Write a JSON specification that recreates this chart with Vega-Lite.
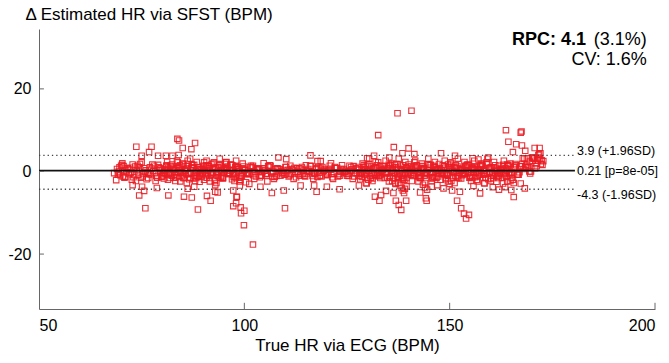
{
  "$schema": "https://vega.github.io/schema/vega-lite/v6.json",
  "width": 616,
  "height": 280,
  "autosize": {"type": "none"},
  "padding": {"left": 39, "top": 29, "right": 14, "bottom": 54},
  "config": {
    "font": "Liberation Sans",
    "view": {"stroke": null},
    "axis": {"grid": false, "ticks": false, "domainColor": "#666", "labelColor": "#000", "titleColor": "#000", "labelFontSize": 16, "titleFontSize": 17, "titleFontWeight": "normal", "labelPadding": 6}
  },
  "datasets": {
    "pts": [
      {"hr":69.0,"diff":0.6},{"hr":69.8,"diff":-0.9},{"hr":70.6,"diff":1.3},{"hr":71.4,"diff":-0.2},{"hr":72.2,"diff":0.9},{"hr":73.0,"diff":-1.4},{"hr":73.8,"diff":0.3},{"hr":74.6,"diff":1.8},{"hr":75.4,"diff":-0.6},{"hr":76.2,"diff":-1.9},{"hr":77.0,"diff":1.0},{"hr":77.8,"diff":0.1},{"hr":78.6,"diff":-1.1},{"hr":79.4,"diff":0.6},{"hr":80.2,"diff":-0.9},{"hr":81.0,"diff":1.3},{"hr":81.8,"diff":-0.2},{"hr":82.6,"diff":0.9},{"hr":83.4,"diff":-1.4},{"hr":84.2,"diff":0.3},{"hr":85.0,"diff":1.8},{"hr":85.8,"diff":-0.6},{"hr":86.6,"diff":-1.9},{"hr":87.4,"diff":1.0},{"hr":88.2,"diff":0.1},{"hr":89.0,"diff":-1.1},{"hr":89.8,"diff":0.6},{"hr":90.6,"diff":-0.9},{"hr":91.4,"diff":1.3},{"hr":92.2,"diff":-0.2},{"hr":93.0,"diff":0.9},{"hr":93.8,"diff":-1.4},{"hr":94.6,"diff":0.3},{"hr":95.4,"diff":1.8},{"hr":96.2,"diff":-0.6},{"hr":97.0,"diff":-1.9},{"hr":97.8,"diff":1.0},{"hr":98.6,"diff":0.1},{"hr":99.4,"diff":-1.1},{"hr":100.2,"diff":0.4},{"hr":101.0,"diff":-0.6},{"hr":101.8,"diff":0.9},{"hr":102.6,"diff":-0.1},{"hr":103.4,"diff":0.6},{"hr":104.2,"diff":-1.0},{"hr":105.0,"diff":0.2},{"hr":105.8,"diff":1.3},{"hr":106.6,"diff":-0.4},{"hr":107.4,"diff":-1.3},{"hr":108.2,"diff":0.7},{"hr":109.0,"diff":0.1},{"hr":109.8,"diff":-0.8},{"hr":110.6,"diff":0.4},{"hr":111.4,"diff":-0.6},{"hr":112.2,"diff":0.9},{"hr":113.0,"diff":-0.1},{"hr":113.8,"diff":0.6},{"hr":114.6,"diff":-1.0},{"hr":115.4,"diff":0.2},{"hr":116.2,"diff":1.3},{"hr":117.0,"diff":-0.4},{"hr":117.8,"diff":-1.3},{"hr":118.6,"diff":0.7},{"hr":119.4,"diff":0.1},{"hr":120.2,"diff":-0.8},{"hr":121.0,"diff":0.4},{"hr":121.8,"diff":-0.6},{"hr":122.6,"diff":0.9},{"hr":123.4,"diff":-0.1},{"hr":124.2,"diff":0.6},{"hr":125.0,"diff":-1.0},{"hr":125.8,"diff":0.2},{"hr":126.6,"diff":1.3},{"hr":127.4,"diff":-0.4},{"hr":128.2,"diff":-1.9},{"hr":129.0,"diff":1.0},{"hr":129.8,"diff":0.1},{"hr":130.6,"diff":-1.1},{"hr":131.4,"diff":0.6},{"hr":132.2,"diff":-0.9},{"hr":133.0,"diff":1.3},{"hr":133.8,"diff":-0.2},{"hr":134.6,"diff":0.9},{"hr":135.4,"diff":-1.4},{"hr":136.2,"diff":0.3},{"hr":137.0,"diff":1.8},{"hr":137.8,"diff":-0.6},{"hr":138.6,"diff":-1.9},{"hr":139.4,"diff":1.0},{"hr":140.2,"diff":0.1},{"hr":141.0,"diff":-1.1},{"hr":141.8,"diff":0.6},{"hr":142.6,"diff":-0.9},{"hr":143.4,"diff":1.3},{"hr":144.2,"diff":-0.2},{"hr":145.0,"diff":0.9},{"hr":145.8,"diff":-1.4},{"hr":146.6,"diff":0.3},{"hr":147.4,"diff":1.8},{"hr":148.2,"diff":-0.6},{"hr":149.0,"diff":-1.9},{"hr":149.8,"diff":1.0},{"hr":150.6,"diff":0.1},{"hr":151.4,"diff":-1.1},{"hr":152.2,"diff":0.6},{"hr":153.0,"diff":-0.9},{"hr":153.8,"diff":1.3},{"hr":154.6,"diff":-0.2},{"hr":155.4,"diff":0.9},{"hr":156.2,"diff":-1.4},{"hr":157.0,"diff":0.3},{"hr":157.8,"diff":1.8},{"hr":158.6,"diff":-0.6},{"hr":159.4,"diff":-1.9},{"hr":160.2,"diff":1.0},{"hr":161.0,"diff":0.1},{"hr":161.8,"diff":-1.1},{"hr":162.6,"diff":0.6},{"hr":163.4,"diff":-0.9},{"hr":164.2,"diff":1.3},{"hr":165.0,"diff":-0.2},{"hr":165.8,"diff":1.2},{"hr":166.6,"diff":-0.8},{"hr":167.4,"diff":1.3},{"hr":168.2,"diff":3.1},{"hr":169.0,"diff":1.0},{"hr":169.8,"diff":0.0},{"hr":170.6,"diff":3.2},{"hr":171.4,"diff":2.7},{"hr":172.2,"diff":1.8},
      {"hr":69.4,"diff":-0.4},{"hr":70.2,"diff":1.6},{"hr":71.0,"diff":-1.3},{"hr":71.8,"diff":0.5},{"hr":72.6,"diff":-2.0},{"hr":73.4,"diff":1.2},{"hr":74.2,"diff":-0.8},{"hr":75.0,"diff":2.2},{"hr":75.8,"diff":-0.1},{"hr":76.6,"diff":-1.6},{"hr":77.4,"diff":0.7},{"hr":78.2,"diff":-0.4},{"hr":79.0,"diff":1.6},{"hr":79.8,"diff":-1.3},{"hr":80.6,"diff":0.5},{"hr":81.4,"diff":-2.0},{"hr":82.2,"diff":1.2},{"hr":83.0,"diff":-0.8},{"hr":83.8,"diff":2.2},{"hr":84.6,"diff":-0.1},{"hr":85.4,"diff":-1.6},{"hr":86.2,"diff":0.7},{"hr":87.0,"diff":-0.4},{"hr":87.8,"diff":1.6},{"hr":88.6,"diff":-1.3},{"hr":89.4,"diff":0.5},{"hr":90.2,"diff":-2.0},{"hr":91.0,"diff":1.2},{"hr":91.8,"diff":-0.8},{"hr":92.6,"diff":2.2},{"hr":93.4,"diff":-0.1},{"hr":94.2,"diff":-1.6},{"hr":95.0,"diff":0.7},{"hr":95.8,"diff":-0.4},{"hr":96.6,"diff":1.6},{"hr":97.4,"diff":-1.3},{"hr":98.2,"diff":0.5},{"hr":99.0,"diff":-2.0},{"hr":99.8,"diff":1.2},{"hr":100.6,"diff":-0.6},{"hr":101.4,"diff":1.1},{"hr":102.2,"diff":-0.9},{"hr":103.0,"diff":0.4},{"hr":103.8,"diff":-1.4},{"hr":104.6,"diff":0.8},{"hr":105.4,"diff":-0.6},{"hr":106.2,"diff":1.5},{"hr":107.0,"diff":-0.1},{"hr":107.8,"diff":-1.1},{"hr":108.6,"diff":0.5},{"hr":109.4,"diff":-0.3},{"hr":110.2,"diff":1.1},{"hr":111.0,"diff":-0.9},{"hr":111.8,"diff":0.4},{"hr":112.6,"diff":-1.4},{"hr":113.4,"diff":0.8},{"hr":114.2,"diff":-0.6},{"hr":115.0,"diff":1.5},{"hr":115.8,"diff":-0.1},{"hr":116.6,"diff":-1.1},{"hr":117.4,"diff":0.5},{"hr":118.2,"diff":-0.3},{"hr":119.0,"diff":1.1},{"hr":119.8,"diff":-0.9},{"hr":120.6,"diff":0.4},{"hr":121.4,"diff":-1.4},{"hr":122.2,"diff":0.8},{"hr":123.0,"diff":-0.6},{"hr":123.8,"diff":1.5},{"hr":124.6,"diff":-0.1},{"hr":125.4,"diff":-1.1},{"hr":126.2,"diff":0.5},{"hr":127.0,"diff":-0.3},{"hr":127.8,"diff":1.1},{"hr":128.6,"diff":-1.3},{"hr":129.4,"diff":0.5},{"hr":130.2,"diff":-2.0},{"hr":131.0,"diff":1.2},{"hr":131.8,"diff":-0.8},{"hr":132.6,"diff":2.2},{"hr":133.4,"diff":-0.1},{"hr":134.2,"diff":-1.6},{"hr":135.0,"diff":0.7},{"hr":135.8,"diff":-0.4},{"hr":136.6,"diff":1.6},{"hr":137.4,"diff":-1.3},{"hr":138.2,"diff":0.5},{"hr":139.0,"diff":-2.0},{"hr":139.8,"diff":1.2},{"hr":140.6,"diff":-0.8},{"hr":141.4,"diff":2.2},{"hr":142.2,"diff":-0.1},{"hr":143.0,"diff":-1.6},{"hr":143.8,"diff":0.7},{"hr":144.6,"diff":-0.4},{"hr":145.4,"diff":1.6},{"hr":146.2,"diff":-1.3},{"hr":147.0,"diff":0.5},{"hr":147.8,"diff":-2.0},{"hr":148.6,"diff":1.2},{"hr":149.4,"diff":-0.8},{"hr":150.2,"diff":2.2},{"hr":151.0,"diff":-0.1},{"hr":151.8,"diff":-1.6},{"hr":152.6,"diff":0.7},{"hr":153.4,"diff":-0.4},{"hr":154.2,"diff":1.6},{"hr":155.0,"diff":-1.3},{"hr":155.8,"diff":0.5},{"hr":156.6,"diff":-2.0},{"hr":157.4,"diff":1.2},{"hr":158.2,"diff":-0.8},{"hr":159.0,"diff":2.2},{"hr":159.8,"diff":-0.1},{"hr":160.6,"diff":-1.6},{"hr":161.4,"diff":0.7},{"hr":162.2,"diff":-0.4},{"hr":163.0,"diff":1.6},{"hr":163.8,"diff":-1.3},{"hr":164.6,"diff":0.5},{"hr":165.4,"diff":-2.0},{"hr":166.2,"diff":1.5},{"hr":167.0,"diff":-0.2},{"hr":167.8,"diff":3.2},{"hr":168.6,"diff":1.2},{"hr":169.4,"diff":0.0},{"hr":170.2,"diff":2.6},{"hr":171.0,"diff":1.8},{"hr":171.8,"diff":4.2},{"hr":172.6,"diff":1.6},
      {"hr":69.2,"diff":-0.7},{"hr":70.0,"diff":1.4},{"hr":70.8,"diff":-1.5},{"hr":71.6,"diff":0.8},{"hr":72.4,"diff":-0.3},{"hr":73.2,"diff":-0.7},{"hr":74.0,"diff":1.4},{"hr":74.8,"diff":-1.5},{"hr":75.6,"diff":0.8},{"hr":76.4,"diff":-0.3},{"hr":77.2,"diff":-0.7},{"hr":78.0,"diff":1.4},{"hr":78.8,"diff":-1.5},{"hr":79.6,"diff":0.8},{"hr":80.4,"diff":-0.3},{"hr":81.2,"diff":-0.7},{"hr":82.0,"diff":1.4},{"hr":82.8,"diff":-1.5},{"hr":83.6,"diff":0.8},{"hr":84.4,"diff":-0.3},{"hr":85.2,"diff":-0.7},{"hr":86.0,"diff":1.4},{"hr":86.8,"diff":-1.5},{"hr":87.6,"diff":0.8},{"hr":88.4,"diff":-0.3},{"hr":89.2,"diff":-0.7},{"hr":90.0,"diff":1.4},{"hr":90.8,"diff":-1.5},{"hr":91.6,"diff":0.8},{"hr":92.4,"diff":-0.3},{"hr":93.2,"diff":-0.7},{"hr":94.0,"diff":1.4},{"hr":94.8,"diff":-1.5},{"hr":95.6,"diff":0.8},{"hr":96.4,"diff":-0.3},{"hr":97.2,"diff":-0.7},{"hr":98.0,"diff":1.4},{"hr":98.8,"diff":-1.5},{"hr":99.6,"diff":0.8},{"hr":100.4,"diff":-0.3},{"hr":101.2,"diff":-0.6},{"hr":102.0,"diff":1.1},{"hr":102.8,"diff":-1.2},{"hr":103.6,"diff":0.6},{"hr":104.4,"diff":-0.2},{"hr":105.2,"diff":-0.6},{"hr":106.0,"diff":1.1},{"hr":106.8,"diff":-1.2},{"hr":107.6,"diff":0.6},{"hr":108.4,"diff":-0.2},{"hr":109.2,"diff":-0.6},{"hr":110.0,"diff":1.1},{"hr":110.8,"diff":-1.2},{"hr":111.6,"diff":0.6},{"hr":112.4,"diff":-0.2},{"hr":113.2,"diff":-0.6},{"hr":114.0,"diff":1.1},{"hr":114.8,"diff":-1.2},{"hr":115.6,"diff":0.6},{"hr":116.4,"diff":-0.2},{"hr":117.2,"diff":-0.6},{"hr":118.0,"diff":1.1},{"hr":118.8,"diff":-1.2},{"hr":119.6,"diff":0.6},{"hr":120.4,"diff":-0.2},{"hr":121.2,"diff":-0.6},{"hr":122.0,"diff":1.1},{"hr":122.8,"diff":-1.2},{"hr":123.6,"diff":0.6},{"hr":124.4,"diff":-0.2},{"hr":125.2,"diff":-0.6},{"hr":126.0,"diff":1.1},{"hr":126.8,"diff":-1.2},{"hr":127.6,"diff":0.6},{"hr":128.4,"diff":-0.3},{"hr":129.2,"diff":-0.7},{"hr":130.0,"diff":1.4},{"hr":130.8,"diff":-1.5},{"hr":131.6,"diff":0.8},{"hr":132.4,"diff":-0.3},{"hr":133.2,"diff":-0.7},{"hr":134.0,"diff":1.4},{"hr":134.8,"diff":-1.5},{"hr":135.6,"diff":0.8},{"hr":136.4,"diff":-0.3},{"hr":137.2,"diff":-0.7},{"hr":138.0,"diff":1.4},{"hr":138.8,"diff":-1.5},{"hr":139.6,"diff":0.8},{"hr":140.4,"diff":-0.3},{"hr":141.2,"diff":-0.7},{"hr":142.0,"diff":1.4},{"hr":142.8,"diff":-1.5},{"hr":143.6,"diff":0.8},{"hr":144.4,"diff":-0.3},{"hr":145.2,"diff":-0.7},{"hr":146.0,"diff":1.4},{"hr":146.8,"diff":-1.5},{"hr":147.6,"diff":0.8},{"hr":148.4,"diff":-0.3},{"hr":149.2,"diff":-0.7},{"hr":150.0,"diff":1.4},{"hr":150.8,"diff":-1.5},{"hr":151.6,"diff":0.8},{"hr":152.4,"diff":-0.3},{"hr":153.2,"diff":-0.7},{"hr":154.0,"diff":1.4},{"hr":154.8,"diff":-1.5},{"hr":155.6,"diff":0.8},{"hr":156.4,"diff":-0.3},{"hr":157.2,"diff":-0.7},{"hr":158.0,"diff":1.4},{"hr":158.8,"diff":-1.5},{"hr":159.6,"diff":0.8},{"hr":160.4,"diff":-0.3},{"hr":161.2,"diff":-0.7},{"hr":162.0,"diff":1.4},{"hr":162.8,"diff":-1.5},{"hr":163.6,"diff":0.8},{"hr":164.4,"diff":-0.3},{"hr":165.2,"diff":-0.7},{"hr":166.0,"diff":1.8},{"hr":166.8,"diff":-0.8},{"hr":167.6,"diff":1.8},{"hr":168.4,"diff":1.1},{"hr":169.2,"diff":1.0},{"hr":170.0,"diff":3.4},{"hr":170.8,"diff":0.8},{"hr":171.6,"diff":3.4},{"hr":172.4,"diff":2.7},
      {"hr":69.6,"diff":1.0},{"hr":70.4,"diff":-1.2},{"hr":71.2,"diff":0.3},{"hr":72.0,"diff":-0.6},{"hr":72.8,"diff":1.7},{"hr":73.6,"diff":-2.3},{"hr":74.4,"diff":1.0},{"hr":75.2,"diff":-1.2},{"hr":76.0,"diff":0.3},{"hr":76.8,"diff":-0.6},{"hr":77.6,"diff":1.7},{"hr":78.4,"diff":-2.3},{"hr":79.2,"diff":1.0},{"hr":80.0,"diff":-1.2},{"hr":80.8,"diff":0.3},{"hr":81.6,"diff":-0.6},{"hr":82.4,"diff":1.7},{"hr":83.2,"diff":-2.3},{"hr":84.0,"diff":1.0},{"hr":84.8,"diff":-1.2},{"hr":85.6,"diff":0.3},{"hr":86.4,"diff":-0.6},{"hr":87.2,"diff":1.7},{"hr":88.0,"diff":-2.3},{"hr":88.8,"diff":1.0},{"hr":89.6,"diff":-1.2},{"hr":90.4,"diff":0.3},{"hr":91.2,"diff":-0.6},{"hr":92.0,"diff":1.7},{"hr":92.8,"diff":-2.3},{"hr":93.6,"diff":1.0},{"hr":94.4,"diff":-1.2},{"hr":95.2,"diff":0.3},{"hr":96.0,"diff":-0.6},{"hr":96.8,"diff":1.7},{"hr":97.6,"diff":-2.3},{"hr":98.4,"diff":1.0},{"hr":99.2,"diff":-1.2},{"hr":100.0,"diff":0.3},{"hr":100.8,"diff":-0.6},{"hr":101.6,"diff":1.4},{"hr":102.4,"diff":-1.8},{"hr":103.2,"diff":0.8},{"hr":104.0,"diff":-1.0},{"hr":104.8,"diff":0.2},{"hr":105.6,"diff":-0.5},{"hr":106.4,"diff":1.4},{"hr":107.2,"diff":-1.8},{"hr":108.0,"diff":0.8},{"hr":108.8,"diff":-1.0},{"hr":109.6,"diff":0.2},{"hr":110.4,"diff":-0.5},{"hr":111.2,"diff":1.4},{"hr":112.0,"diff":-1.8},{"hr":112.8,"diff":0.8},{"hr":113.6,"diff":-1.0},{"hr":114.4,"diff":0.2},{"hr":115.2,"diff":-0.5},{"hr":116.0,"diff":1.4},{"hr":116.8,"diff":-1.8},{"hr":117.6,"diff":0.8},{"hr":118.4,"diff":-1.0},{"hr":119.2,"diff":0.2},{"hr":120.0,"diff":-0.5},{"hr":120.8,"diff":1.4},{"hr":121.6,"diff":-1.8},{"hr":122.4,"diff":0.8},{"hr":123.2,"diff":-1.0},{"hr":124.0,"diff":0.2},{"hr":124.8,"diff":-0.5},{"hr":125.6,"diff":1.4},{"hr":126.4,"diff":-1.8},{"hr":127.2,"diff":0.8},{"hr":128.0,"diff":-1.0},{"hr":128.8,"diff":0.3},{"hr":129.6,"diff":-0.6},{"hr":130.4,"diff":1.7},{"hr":131.2,"diff":-2.3},{"hr":132.0,"diff":1.0},{"hr":132.8,"diff":-1.2},{"hr":133.6,"diff":0.3},{"hr":134.4,"diff":-0.6},{"hr":135.2,"diff":1.7},{"hr":136.0,"diff":-2.3},{"hr":136.8,"diff":1.0},{"hr":137.6,"diff":-1.2},{"hr":138.4,"diff":0.3},{"hr":139.2,"diff":-0.6},{"hr":140.0,"diff":1.7},{"hr":140.8,"diff":-2.3},{"hr":141.6,"diff":1.0},{"hr":142.4,"diff":-1.2},{"hr":143.2,"diff":0.3},{"hr":144.0,"diff":-0.6},{"hr":144.8,"diff":1.7},{"hr":145.6,"diff":-2.3},{"hr":146.4,"diff":1.0},{"hr":147.2,"diff":-1.2},{"hr":148.0,"diff":0.3},{"hr":148.8,"diff":-0.6},{"hr":149.6,"diff":1.7},{"hr":150.4,"diff":-2.3},{"hr":151.2,"diff":1.0},{"hr":152.0,"diff":-1.2},{"hr":152.8,"diff":0.3},{"hr":153.6,"diff":-0.6},{"hr":154.4,"diff":1.7},{"hr":155.2,"diff":-2.3},{"hr":156.0,"diff":1.0},{"hr":156.8,"diff":-1.2},{"hr":157.6,"diff":0.3},{"hr":158.4,"diff":-0.6},{"hr":159.2,"diff":1.7},{"hr":160.0,"diff":-2.3},{"hr":160.8,"diff":1.0},{"hr":161.6,"diff":-1.2},{"hr":162.4,"diff":0.3},{"hr":163.2,"diff":-0.6},{"hr":164.0,"diff":1.7},{"hr":164.8,"diff":-2.3},{"hr":165.6,"diff":1.0},{"hr":166.4,"diff":-0.7},{"hr":167.2,"diff":1.2},{"hr":168.0,"diff":0.6},{"hr":168.8,"diff":3.2},{"hr":169.6,"diff":-0.5},{"hr":170.4,"diff":3.1},{"hr":171.2,"diff":1.3},{"hr":172.0,"diff":3.1},{"hr":172.8,"diff":2.5},
      {"hr":80.3,"diff":-0.4},{"hr":81.1,"diff":1.5},{"hr":81.9,"diff":-1.6},{"hr":82.7,"diff":0.6},{"hr":83.5,"diff":-0.4},{"hr":84.3,"diff":1.5},{"hr":85.1,"diff":-1.6},{"hr":85.9,"diff":0.6},{"hr":86.7,"diff":-0.4},{"hr":87.5,"diff":1.5},{"hr":88.3,"diff":-1.6},{"hr":89.1,"diff":0.6},{"hr":89.9,"diff":-0.4},{"hr":90.7,"diff":1.5},{"hr":91.5,"diff":-1.6},{"hr":92.3,"diff":0.6},{"hr":93.1,"diff":-0.4},{"hr":93.9,"diff":1.5},{"hr":94.7,"diff":-1.6},{"hr":95.5,"diff":0.6},{"hr":96.3,"diff":-0.4},{"hr":97.1,"diff":1.5},{"hr":97.9,"diff":-1.6},{"hr":98.7,"diff":0.6},{"hr":99.5,"diff":-0.4},
      {"hr":128.3,"diff":-0.4},{"hr":129.1,"diff":1.5},{"hr":129.9,"diff":-1.6},{"hr":130.7,"diff":0.6},{"hr":131.5,"diff":-0.4},{"hr":132.3,"diff":1.5},{"hr":133.1,"diff":-1.6},{"hr":133.9,"diff":0.6},{"hr":134.7,"diff":-0.4},{"hr":135.5,"diff":1.5},{"hr":136.3,"diff":-1.6},{"hr":137.1,"diff":0.6},{"hr":137.9,"diff":-0.4},{"hr":138.7,"diff":1.5},{"hr":139.5,"diff":-1.6},{"hr":140.3,"diff":0.6},{"hr":141.1,"diff":-0.4},{"hr":141.9,"diff":1.5},{"hr":142.7,"diff":-1.6},{"hr":143.5,"diff":0.6},{"hr":144.3,"diff":-0.4},{"hr":145.1,"diff":1.5},{"hr":145.9,"diff":-1.6},{"hr":146.7,"diff":0.6},{"hr":147.5,"diff":-0.4},{"hr":148.3,"diff":1.5},{"hr":149.1,"diff":-1.6},{"hr":149.9,"diff":0.6},{"hr":150.7,"diff":-0.4},{"hr":151.5,"diff":1.5},{"hr":152.3,"diff":-1.6},{"hr":153.1,"diff":0.6},{"hr":153.9,"diff":-0.4},{"hr":154.7,"diff":1.5},{"hr":155.5,"diff":-1.6},{"hr":156.3,"diff":0.6},{"hr":157.1,"diff":-0.4},{"hr":157.9,"diff":1.5},{"hr":158.7,"diff":-1.6},{"hr":159.5,"diff":0.6},{"hr":160.3,"diff":-0.4},{"hr":161.1,"diff":1.5},{"hr":161.9,"diff":-1.6},{"hr":162.7,"diff":0.6},{"hr":163.5,"diff":-0.4},{"hr":164.3,"diff":1.5},{"hr":165.1,"diff":-1.6},
      {"hr":80.4,"diff":-1.7},{"hr":81.2,"diff":2.3},{"hr":82.0,"diff":-0.5},{"hr":82.8,"diff":0.4},{"hr":83.6,"diff":2.6},{"hr":84.4,"diff":-2.4},{"hr":85.2,"diff":1.9},{"hr":86.0,"diff":-2.8},{"hr":86.8,"diff":3.1},{"hr":87.6,"diff":-1.7},{"hr":88.4,"diff":2.3},{"hr":89.2,"diff":-0.5},{"hr":90.0,"diff":0.4},{"hr":90.8,"diff":2.6},{"hr":91.6,"diff":-2.4},{"hr":92.4,"diff":1.9},{"hr":93.2,"diff":-2.8},{"hr":94.0,"diff":3.1},{"hr":94.8,"diff":-1.7},{"hr":95.6,"diff":2.3},{"hr":96.4,"diff":-0.5},{"hr":97.2,"diff":0.4},{"hr":98.0,"diff":2.6},{"hr":98.8,"diff":-2.4},{"hr":99.6,"diff":1.9},
      {"hr":128.8,"diff":1.9},{"hr":129.6,"diff":-2.8},{"hr":130.4,"diff":3.1},{"hr":131.2,"diff":-1.7},{"hr":132.0,"diff":2.3},{"hr":132.8,"diff":-0.5},{"hr":133.6,"diff":0.4},{"hr":134.4,"diff":2.6},{"hr":135.2,"diff":-2.4},{"hr":136.0,"diff":1.9},{"hr":136.8,"diff":-2.8},{"hr":137.6,"diff":3.1},{"hr":138.4,"diff":-1.7},{"hr":139.2,"diff":2.3},{"hr":140.0,"diff":-0.5},{"hr":140.8,"diff":0.4},{"hr":141.6,"diff":2.6},{"hr":142.4,"diff":-2.4},{"hr":143.2,"diff":1.9},{"hr":144.0,"diff":-2.8},{"hr":144.8,"diff":3.1},{"hr":145.6,"diff":-1.7},{"hr":146.4,"diff":2.3},{"hr":147.2,"diff":-0.5},{"hr":148.0,"diff":0.4},{"hr":148.8,"diff":2.6},{"hr":149.6,"diff":-2.4},{"hr":150.4,"diff":1.9},{"hr":151.2,"diff":-2.8},{"hr":152.0,"diff":3.1},{"hr":152.8,"diff":-1.7},{"hr":153.6,"diff":2.3},{"hr":154.4,"diff":-0.5},{"hr":155.2,"diff":0.4},{"hr":156.0,"diff":2.6},{"hr":156.8,"diff":-2.4},{"hr":157.6,"diff":1.9},{"hr":158.4,"diff":-2.8},{"hr":159.2,"diff":3.1},{"hr":160.0,"diff":-1.7},{"hr":160.8,"diff":2.3},{"hr":161.6,"diff":-0.5},{"hr":162.4,"diff":0.4},{"hr":163.2,"diff":2.6},{"hr":164.0,"diff":-2.4},{"hr":164.8,"diff":1.9},{"hr":165.6,"diff":-2.8},
      {"hr":79.9,"diff":0.2},{"hr":80.7,"diff":-0.5},{"hr":81.5,"diff":0.9},{"hr":82.3,"diff":-1.0},{"hr":83.1,"diff":0.4},{"hr":83.9,"diff":-0.2},{"hr":84.7,"diff":1.2},{"hr":85.5,"diff":0.2},{"hr":86.3,"diff":-0.5},{"hr":87.1,"diff":0.9},{"hr":87.9,"diff":-1.0},{"hr":88.7,"diff":0.4},{"hr":89.5,"diff":-0.2},{"hr":90.3,"diff":1.2},{"hr":91.1,"diff":0.2},{"hr":91.9,"diff":-0.5},{"hr":92.7,"diff":0.9},{"hr":93.5,"diff":-1.0},{"hr":94.3,"diff":0.4},{"hr":95.1,"diff":-0.2},{"hr":95.9,"diff":1.2},{"hr":96.7,"diff":0.2},{"hr":97.5,"diff":-0.5},{"hr":98.3,"diff":0.9},{"hr":99.1,"diff":-1.0},
      {"hr":127.9,"diff":0.4},{"hr":128.7,"diff":-0.2},{"hr":129.5,"diff":1.2},{"hr":130.3,"diff":0.2},{"hr":131.1,"diff":-0.5},{"hr":131.9,"diff":0.9},{"hr":132.7,"diff":-1.0},{"hr":133.5,"diff":0.4},{"hr":134.3,"diff":-0.2},{"hr":135.1,"diff":1.2},{"hr":135.9,"diff":0.2},{"hr":136.7,"diff":-0.5},{"hr":137.5,"diff":0.9},{"hr":138.3,"diff":-1.0},{"hr":139.1,"diff":0.4},{"hr":139.9,"diff":-0.2},{"hr":140.7,"diff":1.2},{"hr":141.5,"diff":0.2},{"hr":142.3,"diff":-0.5},{"hr":143.1,"diff":0.9},{"hr":143.9,"diff":-1.0},{"hr":144.7,"diff":0.4},{"hr":145.5,"diff":-0.2},{"hr":146.3,"diff":1.2},{"hr":147.1,"diff":0.2},{"hr":147.9,"diff":-0.5},{"hr":148.7,"diff":0.9},{"hr":149.5,"diff":-1.0},{"hr":150.3,"diff":0.4},{"hr":151.1,"diff":-0.2},{"hr":151.9,"diff":1.2},{"hr":152.7,"diff":0.2},{"hr":153.5,"diff":-0.5},{"hr":154.3,"diff":0.9},{"hr":155.1,"diff":-1.0},{"hr":155.9,"diff":0.4},{"hr":156.7,"diff":-0.2},{"hr":157.5,"diff":1.2},{"hr":158.3,"diff":0.2},{"hr":159.1,"diff":-0.5},{"hr":159.9,"diff":0.9},{"hr":160.7,"diff":-1.0},{"hr":161.5,"diff":0.4},{"hr":162.3,"diff":-0.2},{"hr":163.1,"diff":1.2},{"hr":163.9,"diff":0.2},{"hr":164.7,"diff":-0.5},
      {"hr":83.7,"diff":7.9},{"hr":84.1,"diff":7.5},{"hr":73.7,"diff":6.0},{"hr":77.4,"diff":6.0},{"hr":76.8,"diff":4.7},{"hr":75.0,"diff":3.8},{"hr":79.0,"diff":3.8},{"hr":80.9,"diff":3.8},{"hr":82.5,"diff":3.8},{"hr":85.0,"diff":5.7},{"hr":87.1,"diff":5.4},{"hr":88.0,"diff":6.9},{"hr":84.0,"diff":4.0},{"hr":86.2,"diff":2.6},{"hr":90.2,"diff":2.2},{"hr":95.6,"diff":2.2},{"hr":94.5,"diff":0.9},{"hr":70.3,"diff":2.0},{"hr":69.4,"diff":0.0},{"hr":68.8,"diff":-2.1},{"hr":68.3,"diff":-0.4},{"hr":72.8,"diff":-3.3},{"hr":75.1,"diff":-3.7},{"hr":75.6,"diff":-4.7},{"hr":74.4,"diff":-5.8},{"hr":78.7,"diff":-4.0},{"hr":81.5,"diff":-5.8},{"hr":75.9,"diff":-8.9},{"hr":85.3,"diff":-6.1},{"hr":87.2,"diff":-6.3},{"hr":86.2,"diff":-4.2},{"hr":87.8,"diff":-3.7},{"hr":88.7,"diff":-9.2},{"hr":90.9,"diff":-5.9},{"hr":91.8,"diff":-7.1},{"hr":92.9,"diff":-4.9},{"hr":93.5,"diff":-5.1},{"hr":97.3,"diff":-4.6},{"hr":98.1,"diff":-6.2},{"hr":98.0,"diff":-7.7},{"hr":97.3,"diff":-8.4},{"hr":92.9,"diff":-3.3},{"hr":89.1,"diff":-2.5},
      {"hr":108.3,"diff":3.4},{"hr":110.2,"diff":3.0},{"hr":116.1,"diff":3.9},{"hr":117.8,"diff":2.5},{"hr":118.6,"diff":2.5},{"hr":121.1,"diff":2.0},{"hr":104.7,"diff":2.0},{"hr":102.1,"diff":1.4},{"hr":129.9,"diff":3.2},{"hr":98.9,"diff":-3.4},{"hr":98.2,"diff":-6.1},{"hr":99.1,"diff":-8.7},{"hr":100.0,"diff":-9.5},{"hr":99.2,"diff":-10.1},{"hr":99.9,"diff":-13.0},{"hr":102.1,"diff":-17.7},{"hr":103.9,"diff":-3.7},{"hr":106.7,"diff":-5.2},{"hr":109.6,"diff":-4.6},{"hr":109.9,"diff":-8.9},{"hr":113.7,"diff":-3.4},{"hr":117.0,"diff":-3.4},{"hr":117.6,"diff":-4.9},{"hr":120.1,"diff":-3.7},{"hr":123.2,"diff":-4.3},{"hr":127.9,"diff":-3.4},{"hr":105.6,"diff":-2.4},{"hr":100.4,"diff":-2.6},{"hr":101.2,"diff":-3.0},
      {"hr":137.3,"diff":14.1},{"hr":140.7,"diff":14.7},{"hr":132.6,"diff":8.8},{"hr":136.4,"diff":5.9},{"hr":140.0,"diff":5.6},{"hr":138.5,"diff":4.4},{"hr":141.4,"diff":4.2},{"hr":147.9,"diff":4.4},{"hr":151.3,"diff":3.8},{"hr":131.6,"diff":3.8},{"hr":135.3,"diff":3.4},{"hr":155.6,"diff":3.2},{"hr":157.0,"diff":2.9},{"hr":159.4,"diff":3.4},{"hr":131.8,"diff":-6.1},{"hr":132.9,"diff":-7.1},{"hr":133.3,"diff":-5.7},{"hr":136.9,"diff":-7.1},{"hr":137.6,"diff":-8.1},{"hr":138.2,"diff":-9.3},{"hr":139.4,"diff":-7.1},{"hr":136.3,"diff":-5.2},{"hr":139.1,"diff":-4.2},{"hr":142.8,"diff":-5.1},{"hr":144.2,"diff":-6.5},{"hr":144.4,"diff":-7.1},{"hr":145.6,"diff":-3.7},{"hr":150.6,"diff":-4.6},{"hr":151.8,"diff":-7.1},{"hr":152.8,"diff":-8.9},{"hr":153.5,"diff":-10.2},{"hr":154.7,"diff":-10.5},{"hr":154.0,"diff":-11.4},{"hr":157.4,"diff":-5.3},{"hr":152.5,"diff":-4.9},{"hr":129.8,"diff":-2.9},{"hr":134.5,"diff":-4.7},{"hr":137.5,"diff":-2.8},{"hr":137.9,"diff":-3.4},{"hr":138.3,"diff":-4.0},{"hr":138.6,"diff":-4.6},{"hr":138.9,"diff":-5.2},{"hr":136.8,"diff":-3.0},{"hr":139.5,"diff":-3.6},{"hr":143.5,"diff":-3.2},{"hr":144.0,"diff":-3.9},{"hr":144.5,"diff":-4.4},{"hr":147.0,"diff":-3.3},{"hr":148.5,"diff":-4.1},{"hr":150.0,"diff":-3.0},{"hr":155.8,"diff":-3.5},{"hr":158.5,"diff":-2.9},{"hr":160.5,"diff":-3.8},{"hr":162.0,"diff":-4.4},
      {"hr":163.7,"diff":10.0},{"hr":167.3,"diff":9.4},{"hr":167.5,"diff":9.7},{"hr":164.3,"diff":7.2},{"hr":166.2,"diff":6.6},{"hr":167.6,"diff":6.3},{"hr":165.4,"diff":4.7},{"hr":168.4,"diff":5.0},{"hr":170.7,"diff":5.7},{"hr":171.9,"diff":5.7},{"hr":172.1,"diff":4.4},{"hr":171.6,"diff":4.0},{"hr":170.3,"diff":3.4},{"hr":169.5,"diff":2.4},{"hr":168.7,"diff":1.6},{"hr":165.6,"diff":-6.2},{"hr":165.0,"diff":-4.5},{"hr":163.5,"diff":-3.8},{"hr":168.3,"diff":-4.1},{"hr":167.3,"diff":-2.9},{"hr":163.0,"diff":-2.9},{"hr":161.4,"diff":-2.5}
    ]
  },
  "encoding": {
    "x": {"field": "hr", "type": "quantitative", "scale": {"domain": [50, 200], "nice": false, "zero": false},
      "axis": {"values": [50, 100, 150, 200], "title": "True HR via ECG (BPM)", "titlePadding": 4, "labelPadding": 8, "labelExpr": "datum.value"}},
    "y": {"field": "diff", "type": "quantitative", "scale": {"domain": [-33.3, 34.5], "nice": false, "zero": false},
      "axis": {"values": [-20, 0, 20], "title": "Δ Estimated HR via SFST (BPM)", "titleAngle": 0, "titleAlign": "left", "titleBaseline": "alphabetic", "titleX": -14, "titleY": -10, "labelPadding": 8, "labelExpr": "datum.value"}}
  },
  "layer": [
    {"data": {"name": "pts"}, "mark": {"type": "point", "shape": "square", "filled": false, "size": 30, "strokeWidth": 1.1, "color": "#ec1c24", "opacity": 0.9}},
    {"data": {"values": [{"hr": 50, "hr2": 180.5, "diff": 3.9}, {"hr": 50, "hr2": 180.5, "diff": -4.3}]},
      "mark": {"type": "rule", "color": "#444", "strokeWidth": 1.3, "strokeDash": [1.3, 3]},
      "encoding": {"x2": {"field": "hr2"}}},
    {"data": {"values": [{"hr": 50, "hr2": 180.5, "diff": 0.21}]},
      "mark": {"type": "rule", "color": "#111", "strokeWidth": 1.6},
      "encoding": {"x2": {"field": "hr2"}}},
    {"data": {"values": [{"hr": 100, "diff": -33.3, "diff2": -31.8}, {"hr": 150, "diff": -33.3, "diff2": -31.8}, {"hr": 200, "diff": -33.3, "diff2": -31.8}]},
      "mark": {"type": "rule", "color": "#666", "strokeWidth": 1},
      "encoding": {"y2": {"field": "diff2"}}},
    {"data": {"values": [{"hr": 50, "hr2": 51.2, "diff": 20}, {"hr": 50, "hr2": 51.2, "diff": 0}, {"hr": 50, "hr2": 51.2, "diff": -20}]},
      "mark": {"type": "rule", "color": "#666", "strokeWidth": 1},
      "encoding": {"x2": {"field": "hr2"}}},
    {"data": {"values": [{"hr": 181, "diff": 3.9, "label": "3.9 (+1.96SD)"}]},
      "mark": {"type": "text", "align": "left", "baseline": "alphabetic", "fontSize": 12.5, "color": "#000"},
      "encoding": {"text": {"field": "label"}}},
    {"data": {"values": [{"hr": 181, "diff": 0.21, "label": "0.21 [p=8e-05]"}]},
      "mark": {"type": "text", "align": "left", "baseline": "middle", "fontSize": 12.5, "color": "#000"},
      "encoding": {"text": {"field": "label"}}},
    {"data": {"values": [{"hr": 181, "diff": -4.3, "label": "-4.3 (-1.96SD)"}]},
      "mark": {"type": "text", "align": "left", "baseline": "top", "fontSize": 12.5, "color": "#000"},
      "encoding": {"text": {"field": "label"}}},
    {"data": {"values": [{"hr": 183.2, "diff": 30.6, "label": "RPC: 4.1"}]},
      "mark": {"type": "text", "align": "right", "baseline": "alphabetic", "fontSize": 18, "fontWeight": "bold", "color": "#000"},
      "encoding": {"text": {"field": "label"}}},
    {"data": {"values": [{"hr": 198, "diff": 30.6, "label": "(3.1%)"}, {"hr": 198, "diff": 25.8, "label": "CV: 1.6%"}]},
      "mark": {"type": "text", "align": "right", "baseline": "alphabetic", "fontSize": 18, "color": "#000"},
      "encoding": {"text": {"field": "label"}}}
  ]
}
